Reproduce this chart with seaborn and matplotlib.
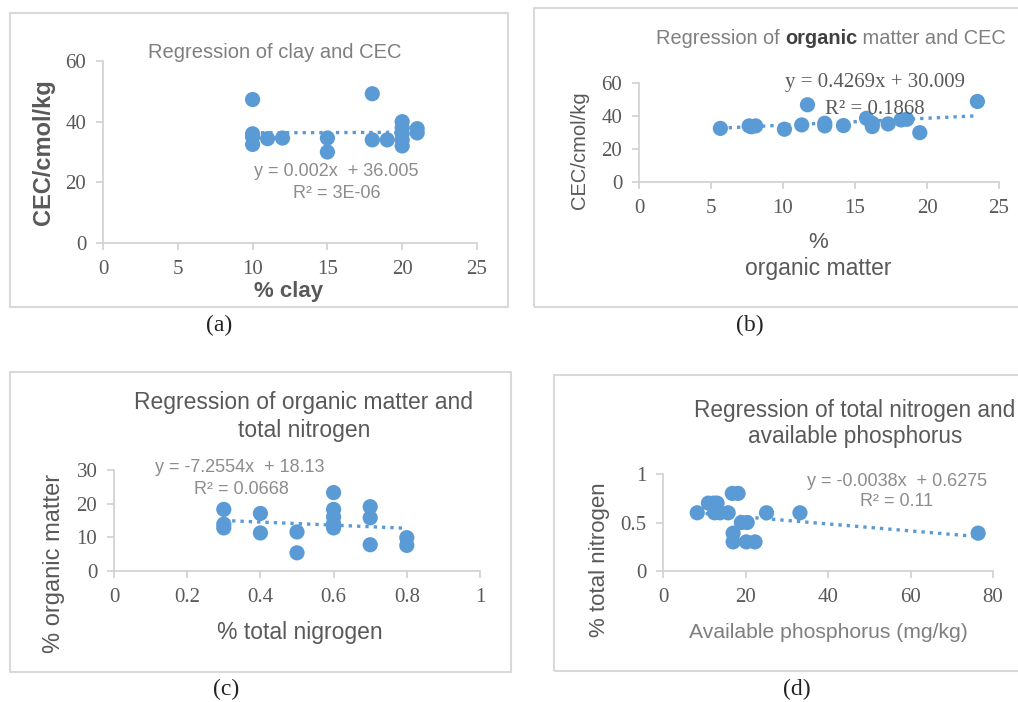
import matplotlib
matplotlib.use("Agg")
import matplotlib.pyplot as plt
from matplotlib.patches import Rectangle
import numpy as np
import seaborn as sns

sns.set_theme(style="white")
plt.rcParams['font.family'] = ['Liberation Sans', 'DejaVu Sans']

# ---- data ----
clay = [10, 10, 10, 10, 11, 12, 15, 15, 18, 18, 19, 20, 20, 20, 20, 20, 21, 21]
cec_a = [47.3, 36.0, 35.0, 32.5, 34.4, 34.6, 34.6, 30.0, 49.2, 34.0, 34.0, 40.0, 38.0, 36.0, 34.0, 32.0, 37.7, 36.3]

om_b = [5.65, 7.65, 7.8, 8.1, 10.1, 11.3, 11.7, 12.9, 12.9, 14.2, 15.8, 16.2, 16.2, 17.3, 18.2, 18.6, 19.5, 23.5]
cec_b = [32.5, 34.0, 33.5, 34.0, 32.0, 34.6, 46.8, 35.6, 34.0, 34.2, 38.6, 35.6, 33.6, 35.2, 37.6, 38.0, 29.9, 48.8]

tn_c = [0.3, 0.3, 0.3, 0.4, 0.4, 0.5, 0.5, 0.6, 0.6, 0.6, 0.6, 0.6, 0.7, 0.7, 0.7, 0.8, 0.8]
om_c = [18.3, 13.9, 12.8, 17.1, 11.3, 11.6, 5.4, 23.3, 18.3, 16.1, 14.1, 12.8, 19.1, 15.8, 7.8, 9.9, 7.6]

p_d = [8.3, 11.0, 12.3, 13.1, 12.5, 13.8, 15.8, 16.8, 18.2, 17.0, 17.0, 19.0, 20.4, 20.2, 22.3, 25.1, 33.2, 76.4]
tn_d = [0.6, 0.7, 0.7, 0.7, 0.6, 0.6, 0.6, 0.8, 0.8, 0.39, 0.3, 0.5, 0.5, 0.3, 0.3, 0.6, 0.6, 0.39]

W, H = 1018, 702
fig = plt.figure(figsize=(W / 100, H / 100), dpi=100)

BLUE = "#5B9BD5"
TXT = "#595959"
AX = "#D0D0D0"


def px_axes(x0, y0, x1, y1):
    return fig.add_axes([x0 / W, 1 - y1 / H, (x1 - x0) / W, (y1 - y0) / H])


def box(x0, y0, x1, y1):
    fig.patches.append(Rectangle((x0 / W, 1 - y1 / H), (x1 - x0) / W, (y1 - y0) / H,
                                 transform=fig.transFigure, fill=False,
                                 edgecolor="#D9D9D9", lw=1.5, zorder=0))


def ftext(x, y, s, **kw):
    fig.text(x / W, 1 - y / H, s, ha="center", va="center", **kw)


def style(ax, xlim, ylim, xt, yt, xtl, ytl, fs=15):
    ax.set_xlim(*xlim)
    ax.set_ylim(*ylim)
    ax.set_xticks(xt)
    ax.set_yticks(yt)
    ax.set_xticklabels(xtl, family="Liberation Serif", fontsize=fs, color=TXT)
    ax.set_yticklabels(ytl, family="Liberation Serif", fontsize=fs, color=TXT)
    for s in ["top", "right"]:
        ax.spines[s].set_visible(False)
    for s in ["left", "bottom"]:
        ax.spines[s].set_color(AX)
        ax.spines[s].set_linewidth(1.2)
    ax.tick_params(axis="both", which="major", length=5, width=1.2, color=AX,
                   direction="out", pad=7, bottom=True, left=True)
    ax.patch.set_alpha(0)
    ax.set_xlabel("")
    ax.set_ylabel("")


def draw(ax, x, y):
    sns.regplot(x=x, y=y, ax=ax, ci=None, truncate=True,
                scatter_kws=dict(s=120, color=BLUE, alpha=1, edgecolor="none", zorder=3, clip_on=False),
                line_kws=dict(color=BLUE, lw=2.4, ls=(0, (1, 1.5)), zorder=2))


# boxes
box(10, 13, 508, 307)
box(534, 8, 1030, 307)
box(10, 372, 511, 672)
box(554, 375, 1030, 671)

# ---- (a) ----
ax = px_axes(103, 61, 477, 243)
draw(ax, clay, cec_a)
style(ax, (0, 25), (0, 60), [0, 5, 10, 15, 20, 25], [0, 20, 40, 60],
      ["0", "5", "10", "15", "20", "25"], ["0", "20", "40", "60"])
ftext(275, 52, "Regression of clay and CEC", fontsize=14.5, color="#7F7F7F")
ftext(336, 172, "y = 0.002x  + 36.005", fontsize=13, color="#8C8C8C")
ftext(337, 193, "R² = 3E-06", fontsize=13, color="#8C8C8C")
ftext(44, 152, "CEC/cmol/kg", fontsize=17, color=TXT, rotation=90, fontweight="bold")
ftext(289, 292, "% clay", fontsize=16, color=TXT, fontweight="bold")
ftext(219, 325, "(a)", fontsize=17, color="#222222", family="Liberation Serif")

# ---- (b) ----
ax = px_axes(639, 83, 999, 182)
draw(ax, om_b, cec_b)
style(ax, (0, 25), (0, 60), [0, 5, 10, 15, 20, 25], [0, 20, 40, 60],
      ["0", "5", "10", "15", "20", "25"], ["0", "20", "40", "60"])
t1 = fig.text(656 / W, 1 - 39 / H, "Regression of ", fontsize=14.4, color="#7F7F7F",
              ha="left", va="center")
t2 = ax.annotate("organic", xy=(1, 0), xycoords=t1, va="bottom", ha="left",
                 fontsize=14.4, color="#404040", fontweight="bold", annotation_clip=False)
t3 = ax.annotate(" matter and CEC", xy=(1, 0), xycoords=t2, va="bottom", ha="left",
                 fontsize=14.4, color="#7F7F7F", annotation_clip=False)
ftext(875, 83, "y = 0.4269x + 30.009", fontsize=15, color=TXT, family="Liberation Serif")
ftext(875, 109, "R² = 0.1868", fontsize=15, color=TXT, family="Liberation Serif")
ftext(579, 150, "CEC/cmol/kg", fontsize=14.5, color=TXT, rotation=90)
ftext(818, 242, "%", fontsize=16, color=TXT)
ftext(818, 268, "organic matter", fontsize=16.5, color=TXT)
ftext(750, 325, "(b)", fontsize=17, color="#222222", family="Liberation Serif")

# ---- (c) ----
ax = px_axes(114, 470, 480, 571)
draw(ax, tn_c, om_c)
style(ax, (0, 1), (0, 30), [0, 0.2, 0.4, 0.6, 0.8, 1], [0, 10, 20, 30],
      ["0", "0.2", "0.4", "0.6", "0.8", "1"], ["0", "10", "20", "30"])
ftext(304, 403, "Regression of organic matter and", fontsize=16.5, color=TXT)
ftext(304, 431, "total nitrogen", fontsize=16.5, color=TXT)
ftext(240, 468, "y = -7.2554x  + 18.13", fontsize=13, color="#8C8C8C")
ftext(241, 489, "R² = 0.0668", fontsize=13, color="#8C8C8C")
ftext(54, 563, "% organic matter", fontsize=17, color=TXT, rotation=90)
ftext(300, 632, "% total nigrogen", fontsize=16.5, color=TXT)
ftext(226, 689, "(c)", fontsize=17, color="#222222", family="Liberation Serif")

# ---- (d) ----
ax = px_axes(663, 474, 993, 571)
draw(ax, p_d, tn_d)
style(ax, (0, 80), (0, 1), [0, 20, 40, 60, 80], [0, 0.5, 1],
      ["0", "20", "40", "60", "80"], ["0", "0.5", "1"])
ftext(855, 411, "Regression of total nitrogen and", fontsize=16.3, color=TXT)
ftext(855, 437, "available phosphorus", fontsize=16.3, color=TXT)
ftext(897, 481, "y = -0.0038x  + 0.6275", fontsize=13, color="#8C8C8C")
ftext(897, 502, "R² = 0.11", fontsize=13, color="#8C8C8C")
ftext(599, 560, "% total nitrogen", fontsize=16, color=TXT, rotation=90)
ftext(828, 632, "Available phosphorus (mg/kg)", fontsize=15.2, color="#7F7F7F")
ftext(797, 689, "(d)", fontsize=17, color="#222222", family="Liberation Serif")

fig.savefig("out.png", dpi=100, facecolor="white")
